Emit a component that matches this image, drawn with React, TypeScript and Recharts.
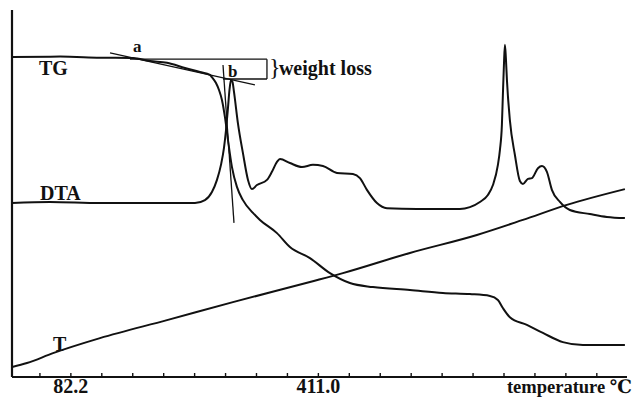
import { LineChart, Line, XAxis, YAxis, ReferenceLine, ReferenceDot } from 'recharts';

// temperature (°C) and relative signal (0-100) for each trace
const tgTemp = [4, 67.8, 120.9, 164.7, 187.3, 209.9, 233.8, 253.7, 267, 269.6, 275, 279, 282.9, 286.9, 290.9, 296.2, 302.8, 310.8, 324.1, 333.4, 356, 373.2, 399.8, 426.4, 452.9, 483.5, 532.6, 576.5, 612.3, 638.9, 649.5, 656.1, 665.4, 688, 709.3, 735.8, 762.4, 791.6, 818.2];
const tgSignal = [87.2, 87.3, 87.0, 86.9, 86.1, 85.6, 84.2, 83.1, 82.3, 81.7, 80.1, 78.2, 75.5, 70.8, 64.6, 57.2, 51.8, 48.2, 44.7, 42.8, 39.2, 35.4, 32.4, 28.3, 25.6, 24.5, 23.7, 22.9, 22.6, 22.1, 21.0, 18.8, 16.3, 14.2, 12.0, 9.5, 8.7, 8.7, 8.7];

const dtaTemp = [4, 54.5, 120.9, 187.3, 247.1, 260.3, 269.6, 276.3, 281.6, 285.6, 288.3, 290.9, 292.9, 294.9, 296.9, 298.9, 304.1, 310.8, 317.5, 322.8, 329.4, 342.7, 349.3, 356, 360, 373.2, 389.2, 403.8, 417.1, 435.7, 456.9, 466.2, 475.5, 488.8, 502.1, 542, 599, 612.3, 625.6, 636.2, 642.9, 649.5, 652.2, 654.8, 656.1, 657.5, 658.8, 660.1, 661.5, 665.4, 672.1, 678.7, 682.7, 689.4, 694.7, 702.7, 708, 714.6, 721.2, 731.9, 745.1, 771.7, 794.3, 818.2];
const dtaSignal = [47.4, 47.7, 47.4, 47.4, 47.4, 48.2, 50.4, 53.7, 57.8, 62.4, 67.3, 73.3, 78.2, 80.9, 80.4, 77.7, 69.2, 61.0, 53.7, 51.2, 52.3, 53.7, 55.9, 58.6, 59.4, 58.3, 57.2, 57.8, 57.5, 55.6, 55.3, 54.2, 51.0, 47.4, 46.0, 45.8, 45.8, 46.3, 47.7, 49.6, 52.3, 57.8, 61.9, 68.7, 76.8, 85.0, 90.5, 86.9, 80.9, 70.0, 60.5, 53.4, 52.6, 54.0, 54.2, 56.9, 57.5, 55.9, 51.0, 47.7, 45.5, 44.4, 43.6, 43.3];

const tTemp = [4, 23.9, 58.5, 120.9, 209.9, 297.5, 399.8, 443.6, 532.6, 621.6, 682.7, 741.1, 818.2];
const tSignal = [2.7, 3.8, 6.5, 10.6, 15.5, 20.4, 25.9, 28.3, 33.8, 38.7, 42.8, 46.9, 51.2];

const tickValues = [41.1, 82.2, 123.3, 164.4, 205.5, 246.6, 287.7, 328.8, 369.9, 411.0, 452.1, 493.2, 534.3, 575.4, 616.5, 657.6, 698.7, 739.8, 780.9];
const tickLabels = ['82.2', '411.0'];

const zip = (ts: number[], vs: number[]) => ts.map((t, i) => ({ t, v: vs[i] }));
const tgData = zip(tgTemp, tgSignal);
const dtaData = zip(dtaTemp, dtaSignal);
const tData = zip(tTemp, tSignal);

const INK = '#111';
const SERIF = '"Liberation Serif", "DejaVu Serif", serif';

// curve names and tangent-construction marks
const notes = [
  { text: 'TG', t: 39.9, v: 82.3, size: 20 },
  { text: 'DTA', t: 41.2, v: 48.2, size: 20 },
  { text: 'T', t: 58.5, v: 7.1, size: 20 },
  { text: 'a', t: 164.7, v: 88.6, size: 17 },
  { text: 'b', t: 290.9, v: 81.7, size: 17 },
  { text: 'weight loss', t: 358.6, v: 82.3, size: 20 },
];

const guides = [
  // weight-loss bracket
  { x1: 160.7, y1: 86.6, x2: 342.7, y2: 86.6 },
  { x1: 284.3, y1: 81.2, x2: 342.7, y2: 81.2 },
  { x1: 342.7, y1: 81.2, x2: 342.7, y2: 86.6 },
  // tangent at onset (a)
  { x1: 134.2, y1: 88.3, x2: 326.7, y2: 79.6 },
  // tangent on steep drop (b)
  { x1: 284.3, y1: 85.0, x2: 298.9, y2: 42.0 },
];

const AxisTick = (props: any) => {
  const { x, y, payload } = props;
  const label = Number(payload.value).toFixed(1);
  return (
    <g>
      <line x1={x} x2={x} y1={y} y2={y - 4} stroke={INK} strokeWidth={1.4} />
      {tickLabels.includes(label) && (
        <text x={x} y={y + 16} textAnchor="middle" fontFamily={SERIF} fontWeight="bold" fontSize={20} fill={INK}>
          {label}
        </text>
      )}
    </g>
  );
};

const noteLabel = (text: string, size: number) => ({
  content: (p: any) => {
    const vb = p.viewBox || {};
    const x = (vb.x ?? 0) + (vb.width ?? 0) / 2;
    const y = (vb.y ?? 0) + (vb.height ?? 0) / 2;
    return (
      <text x={x} y={y} fontFamily={SERIF} fontWeight="bold" fontSize={size} fill={INK}>
        {text}
      </text>
    );
  },
});

export default function App() {
  return (
    <div style={{ position: 'absolute', left: 0, top: 0, background: '#fff' }}>
      <LineChart width={632} height={397} margin={{ top: 10, right: 5, bottom: 0, left: 12 }}>
        <XAxis
          type="number"
          dataKey="t"
          domain={[4, 821]}
          ticks={tickValues}
          interval={0}
          tickSize={0}
          tickMargin={0}
          tickLine={false}
          tick={<AxisTick />}
          axisLine={{ stroke: INK, strokeWidth: 2.2 }}
          height={20}
          allowDataOverflow
          label={{
            content: () => (
              <text x={632} y={393} textAnchor="end" fontFamily={SERIF} fontWeight="bold" fontSize={18.5} fill={INK}>
                temperature ℃
              </text>
            ),
          }}
        />
        <YAxis type="number" domain={[0, 100]} hide allowDataOverflow />
        {/* left frame line */}
        <ReferenceLine x={4} stroke={INK} strokeWidth={2.2} ifOverflow="visible" />
        {guides.map((g, i) => (
          <ReferenceLine
            key={`g-${i}`}
            segment={[{ x: g.x1, y: g.y1 }, { x: g.x2, y: g.y2 }]}
            stroke={INK}
            strokeWidth={1.3}
            ifOverflow="visible"
          />
        ))}
        <Line data={tgData} dataKey="v" type="monotone" stroke={INK} strokeWidth={2} dot={false} isAnimationActive={false} />
        <Line data={dtaData} dataKey="v" type="monotone" stroke={INK} strokeWidth={2} dot={false} isAnimationActive={false} />
        <Line data={tData} dataKey="v" type="monotone" stroke={INK} strokeWidth={2} dot={false} isAnimationActive={false} />
        <ReferenceDot
          x={345.3}
          y={82.3}
          r={0}
          fill="none"
          stroke="none"
          ifOverflow="visible"
          label={{
            content: (p: any) => {
              const vb = p.viewBox || {};
              return (
                <text x={vb.x ?? 0} y={vb.y ?? 0} fontFamily={SERIF} fontSize={24} fill={INK}>
                  {'}'}
                </text>
              );
            },
          }}
        />
        {notes.map((n) => (
          <ReferenceDot
            key={n.text}
            x={n.t}
            y={n.v}
            r={0}
            fill="none"
            stroke="none"
            ifOverflow="visible"
            label={noteLabel(n.text, n.size)}
          />
        ))}
      </LineChart>
    </div>
  );
}
